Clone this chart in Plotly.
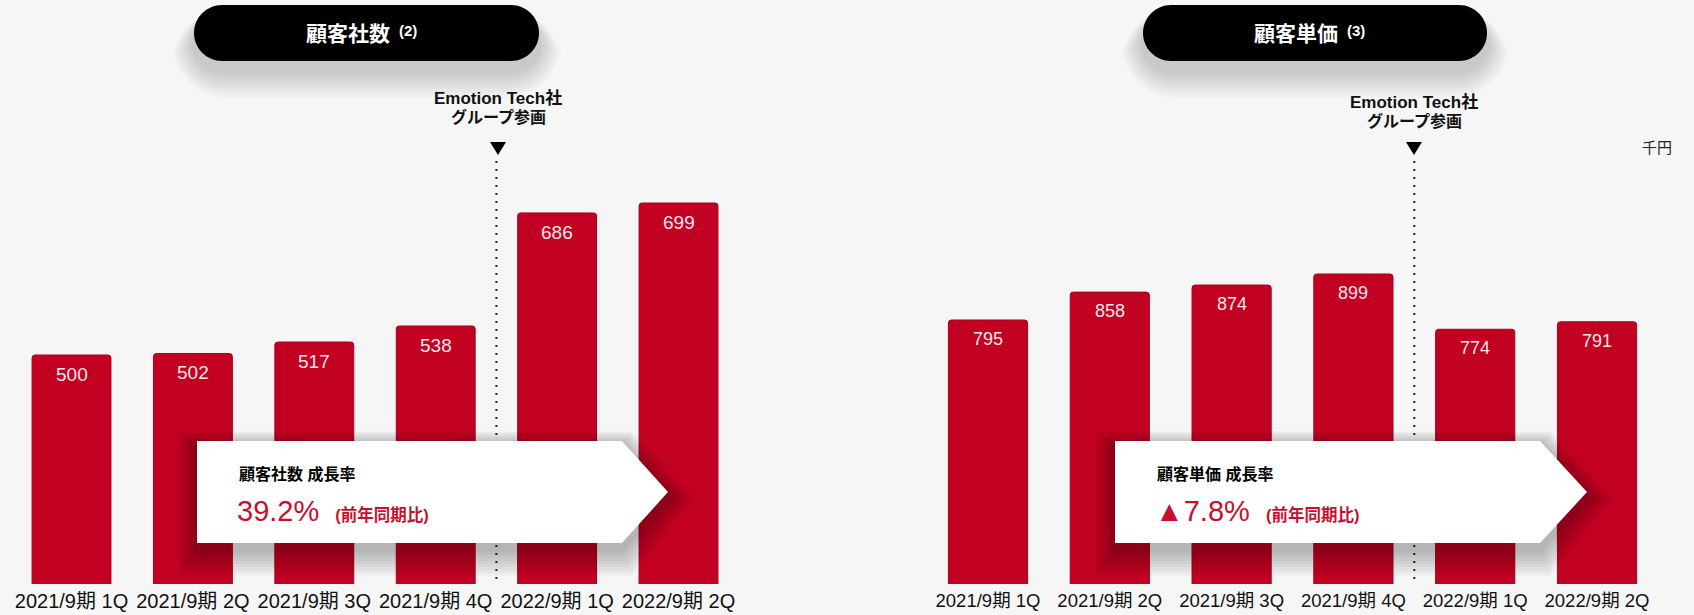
import plotly.graph_objects as go

# ---- data ----
quarters = ["2021/9期 1Q", "2021/9期 2Q", "2021/9期 3Q", "2021/9期 4Q", "2022/9期 1Q", "2022/9期 2Q"]
customer_counts = [500, 502, 517, 538, 686, 699]
unit_prices = [795, 858, 874, 899, 774, 791]
count_growth = "39.2%"
price_growth = "▲7.8%"

# ---- canvas geometry (pixels) ----
W, H = 1694, 615
M_T, M_B = 84, 31
PLOT_H = H - M_T - M_B
BOTTOM = H - M_B

RED = "#c20022"
BG = "#f6f6f6"
JP = "Liberation Sans, Noto Sans CJK JP, sans-serif"


def px(x):
    return x / W


def py(y):
    return (BOTTOM - y) / PLOT_H


def path(points, close=True):
    """Polyline path from pixel points, converted to paper coords."""
    s = "M{:.5f},{:.5f}".format(px(points[0][0]), py(points[0][1]))
    for x, y in points[1:]:
        s += " L{:.5f},{:.5f}".format(px(x), py(y))
    return s + (" Z" if close else "")


def pill(x0, y0, x1, y1, r):
    """Rounded rectangle (cubic-bezier corners) in paper coords."""
    k = 0.5523 * r
    P = lambda x, y: "{:.5f},{:.5f}".format(px(x), py(y))
    return (
        f"M{P(x0 + r, y0)} L{P(x1 - r, y0)} "
        f"C{P(x1 - r + k, y0)} {P(x1, y0 + r - k)} {P(x1, y0 + r)} "
        f"L{P(x1, y1 - r)} "
        f"C{P(x1, y1 - r + k)} {P(x1 - r + k, y1)} {P(x1 - r, y1)} "
        f"L{P(x0 + r, y1)} "
        f"C{P(x0 + r - k, y1)} {P(x0, y1 - r + k)} {P(x0, y1 - r)} "
        f"L{P(x0, y0 + r)} "
        f"C{P(x0, y0 + r - k)} {P(x0 + r - k, y0)} {P(x0 + r, y0)} Z"
    )


fig = go.Figure()

bar_style = dict(
    marker=dict(color=RED, line=dict(color="#a9001d", width=1), cornerradius=3),
    width=0.65,
    hoverinfo="skip",
    showlegend=False,
)
fig.add_trace(go.Bar(x=quarters, y=customer_counts, xaxis="x", yaxis="y", **bar_style))
fig.add_trace(go.Bar(x=quarters, y=unit_prices, xaxis="x2", yaxis="y2", **bar_style))

shapes = []
annotations = []

# value labels inside the top of each bar
for xa, ya, vals, size in (("x", "y", customer_counts, 19), ("x2", "y2", unit_prices, 18)):
    for q, v in zip(quarters, vals):
        annotations.append(dict(
            x=q, y=v, xref=xa, yref=ya, text=str(v), showarrow=False,
            yanchor="top", yshift=-7,
            font=dict(family="Liberation Sans, Arial", size=size, color="#f7e6e8"),
        ))

# black title pills with soft drop shadow
for (x0, x1, title, note) in ((194, 539, "顧客社数", "(2)"), (1143, 1487, "顧客単価", "(3)")):
    for i in range(9, 0, -1):
        e = i * 3
        shapes.append(dict(type="path", xref="paper", yref="paper", layer="below",
                           path=pill(x0 - e * 0.8, 5 + 12 - e * 0.3, x1 + e * 0.8, 61 + 10 + e, 28 + e),
                           fillcolor="rgba(0,0,0,0.02)", line=dict(width=0)))
    shapes.append(dict(type="path", xref="paper", yref="paper", layer="above",
                       path=pill(x0, 5, x1, 61, 28), fillcolor="#000000", line=dict(width=0)))
    cx = (x0 + x1) / 2
    annotations.append(dict(x=px(cx - 19), y=py(34), xref="paper", yref="paper", text=title,
                            showarrow=False, xanchor="center", yanchor="middle",
                            font=dict(family=JP, size=21, color="white", weight=600)))
    annotations.append(dict(x=px(cx + 41), y=py(31), xref="paper", yref="paper", text=note,
                            showarrow=False, xanchor="center", yanchor="middle",
                            font=dict(family=JP, size=15, color="white", weight=700)))

# group-join marker: label, triangle and dotted divider between 4Q and next 1Q
for (xa, cx, l1, l2) in (("x", 498, 98, 117), ("x2", 1414, 102, 121)):
    annotations.append(dict(x=px(cx), y=py(l1), xref="paper", yref="paper", text="Emotion Tech社",
                            showarrow=False, xanchor="center", yanchor="middle",
                            font=dict(family=JP, size=17, color="#111111", weight=700)))
    annotations.append(dict(x=px(cx), y=py(l2), xref="paper", yref="paper", text="グループ参画",
                            showarrow=False, xanchor="center", yanchor="middle",
                            font=dict(family=JP, size=16, color="#111111", weight=700)))
    shapes.append(dict(type="path", xref="paper", yref="paper", layer="above",
                       path=path([(cx - 8, 142), (cx + 8, 142), (cx, 155)]),
                       fillcolor="#000000", line=dict(width=0)))
    shapes.append(dict(type="line", xref=xa, yref="paper", x0=3.5, x1=3.5, y0=py(161), y1=py(BOTTOM),
                       layer="below", line=dict(color="#222222", width=2, dash="2px,6px")))

# growth-rate callouts (arrow-shaped white boxes)
for (x0, x1, tip, head, val, tx) in (
    (197, 622, 668, "顧客社数 成長率", count_growth, 237),
    (1115, 1540, 1587, "顧客単価 成長率", price_growth, 1155),
):
    y0, y1 = 441, 543
    ym = (y0 + y1) / 2
    for i in range(9, 0, -1):
        e = i * 3
        pts = [(x0 - e * 0.7, y0 - e * 0.5 + 4), (x1 + e * 0.4, y0 - e * 0.5 + 4),
               (tip + e, ym + 6), (x1 + e * 0.4, y1 + e + 6), (x0 - e * 0.7, y1 + e + 6)]
        shapes.append(dict(type="path", xref="paper", yref="paper", layer="above",
                           path=path(pts), fillcolor="rgba(0,0,0,0.03)", line=dict(width=0)))
    shapes.append(dict(type="path", xref="paper", yref="paper", layer="above",
                       path=path([(x0, y0), (x1, y0), (tip, ym), (x1, y1), (x0, y1)]),
                       fillcolor="#ffffff", line=dict(width=0)))
    annotations.append(dict(x=px(tx), y=py(474), xref="paper", yref="paper", text=head,
                            showarrow=False, xanchor="left", yanchor="middle",
                            font=dict(family=JP, size=16, color="#000000", weight=700)))
    annotations.append(dict(x=px(tx - 2), y=py(511), xref="paper", yref="paper",
                            text=val + "\u00a0 <span style='font-size:16.5px;font-weight:700'>(前年同期比)</span>",
                            showarrow=False, xanchor="left", yanchor="middle",
                            font=dict(family=JP, size=29, color="#c8102e")))

# unit label
annotations.append(dict(x=px(1674), y=py(147), xref="paper", yref="paper", text="千円",
                        showarrow=False, xanchor="right", yanchor="middle",
                        font=dict(family=JP, size=15, color="#222222")))

axis_common = dict(showgrid=False, zeroline=False, showline=False, ticks="", fixedrange=True)

fig.update_layout(
    width=W, height=H,
    margin=dict(l=0, r=0, t=M_T, b=M_B, pad=0),
    paper_bgcolor=BG, plot_bgcolor=BG,
    bargap=0.35,
    xaxis=dict(domain=[px(10.8), px(739.2)], anchor="y", ticklabelstandoff=3,
               tickfont=dict(family=JP, size=20, color="#111111"), **axis_common),
    xaxis2=dict(domain=[px(927.1), px(1657.9)], anchor="y2", ticklabelstandoff=3,
                tickfont=dict(family=JP, size=18.5, color="#111111"), **axis_common),
    yaxis=dict(range=[200.2, 854.8], showticklabels=False, anchor="x", **axis_common),
    yaxis2=dict(range=[198.1, 1328.5], showticklabels=False, anchor="x2", **axis_common),
    shapes=shapes,
    annotations=annotations,
)

fig.write_html("out.html")
